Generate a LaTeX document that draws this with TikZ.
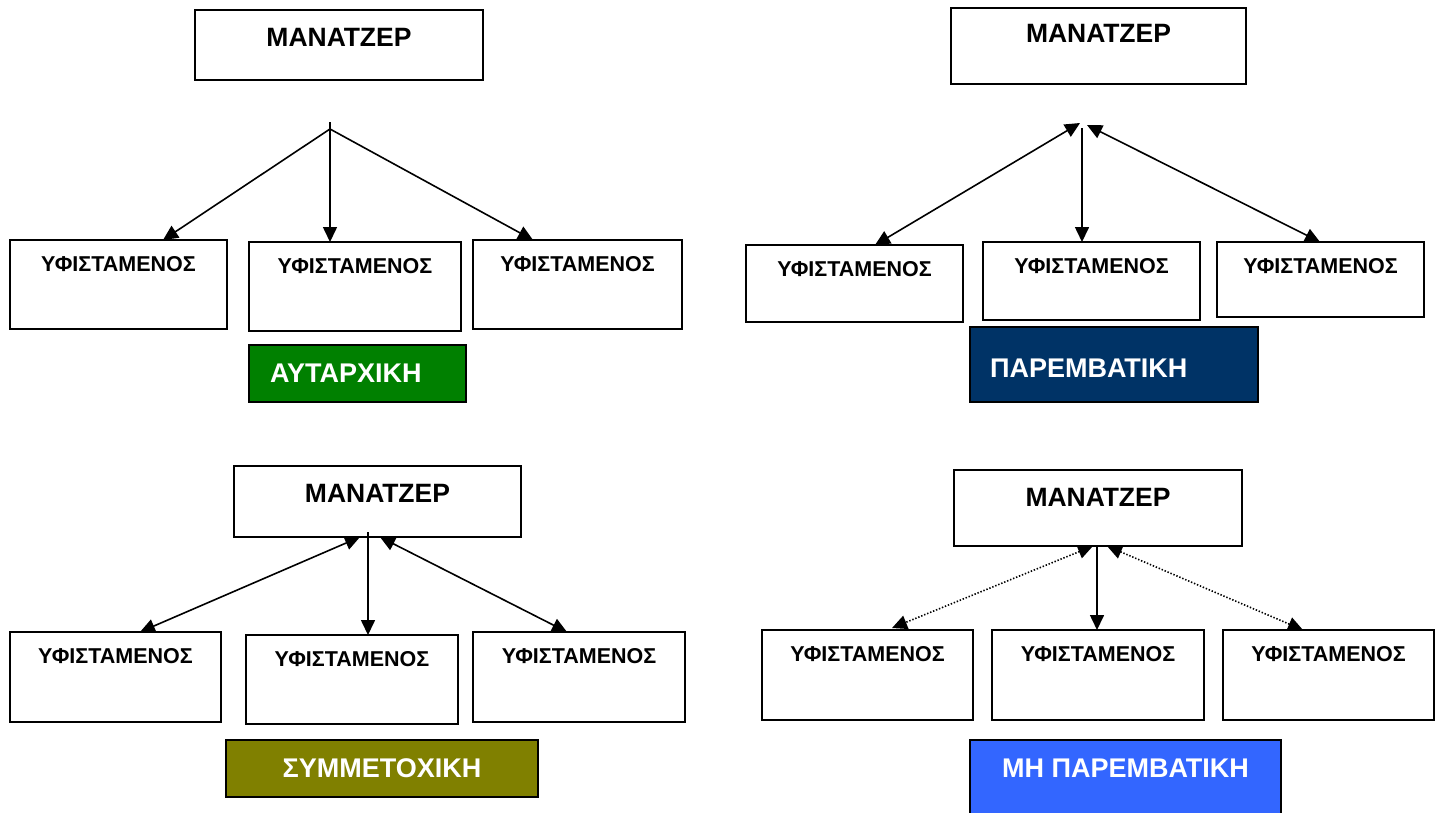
\documentclass[tikz,border=0pt]{standalone}
\usepackage{fontspec}
\setmainfont{Liberation Sans}
\usetikzlibrary{arrows.meta,calc}
\definecolor{autocratic}{RGB}{0,128,0}
\definecolor{interventive}{RGB}{0,51,102}
\definecolor{participative}{RGB}{128,128,0}
\definecolor{noninterventive}{RGB}{51,102,255}
\begin{document}
\begin{tikzpicture}[x=1pt,y=-1pt,
  box/.style={draw, line width=1.5pt, anchor=north west, inner sep=0pt, outer sep=0pt, align=center},
  mgr/.style={box, font=\bfseries\fontsize{26.5}{28}\selectfont},
  sub/.style={box, font=\bfseries\fontsize{21.5}{23}\selectfont},
  tag/.style={box, line width=1.9pt, text=white, font=\bfseries\fontsize{27}{29}\selectfont},
  tip/.tip={Triangle[length=15pt,width=14pt]},
  arr/.style={line width=1.6pt, -tip},
  darr/.style={line width=1.6pt, tip-tip},
  dotarr/.style={darr, dash pattern=on 1.4pt off 1.8pt}]
\useasboundingbox (0,0) rectangle (1439,812);
\clip (0,0) rectangle (1439,812);

% ---- autocratic ----
\node[mgr, minimum width=288pt, minimum height=70pt, text height=36pt, text depth=34pt] (m1) at (195,10) {ΜΑΝΑΤΖΕΡ};
\node[sub, minimum width=217pt, minimum height=89pt, text height=31.5pt, text depth=57.5pt] (b11) at (10,240) {ΥΦΙΣΤΑΜΕΝΟΣ};
\node[sub, minimum width=212pt, minimum height=89pt, text height=31.5pt, text depth=57.5pt] (b12) at (249,242) {ΥΦΙΣΤΑΜΕΝΟΣ};
\node[sub, minimum width=209pt, minimum height=89pt, text height=31.5pt, text depth=57.5pt] (b13) at (473,240) {ΥΦΙΣΤΑΜΕΝΟΣ};
\node[tag, fill=autocratic, inner xsep=21pt, text width=175pt, align=left, minimum height=57pt, text height=37.5pt, text depth=19.5pt] (l1) at (249,345) {ΑΥΤΑΡΧΙΚΗ};
\coordinate (s1) at (330,122);
\coordinate (j1) at (330,129);
\draw[line width=1.6pt] (s1) -- (j1);
\draw[arr] (j1) -- ($(b11.north west)+(153,0)$);
\draw[arr] (j1) -- ($(b12.north west)+(81,0)$);
\draw[arr] (j1) -- ($(b13.north west)+(60,0)$);

% ---- interventive ----
\node[mgr, minimum width=295pt, minimum height=76pt, text height=34.5pt, text depth=41.5pt] (m2) at (951,8) {ΜΑΝΑΤΖΕΡ};
\node[sub, minimum width=217pt, minimum height=77pt, text height=31pt, text depth=46pt] (b21) at (746,245) {ΥΦΙΣΤΑΜΕΝΟΣ};
\node[sub, minimum width=217pt, minimum height=78pt, text height=31.5pt, text depth=46.5pt] (b22) at (983,242) {ΥΦΙΣΤΑΜΕΝΟΣ};
\node[sub, minimum width=207pt, minimum height=75pt, text height=31.5pt, text depth=43.5pt] (b23) at (1217,242) {ΥΦΙΣΤΑΜΕΝΟΣ};
\node[tag, fill=interventive, inner xsep=20pt, text width=248pt, align=left, minimum height=75pt, text height=50.5pt, text depth=24.5pt] (l2) at (970,327) {ΠΑΡΕΜΒΑΤΙΚΗ};
\coordinate (j2l) at (1080,123);
\coordinate (j2m) at (1082,128);
\coordinate (j2r) at (1087,125);
\draw[darr] (j2l) -- ($(b21.north west)+(129,0)$);
\draw[arr] (j2m) -- ($(b22.north west)+(99,0)$);
\draw[darr] (j2r) -- ($(b23.north west)+(103,0)$);

% ---- participative ----
\node[mgr, minimum width=287pt, minimum height=71pt, text height=36.5pt, text depth=34.5pt] (m3) at (234,466) {ΜΑΝΑΤΖΕΡ};
\node[sub, minimum width=211pt, minimum height=90pt, text height=31.5pt, text depth=58.5pt] (b31) at (10,632) {ΥΦΙΣΤΑΜΕΝΟΣ};
\node[sub, minimum width=212pt, minimum height=89pt, text height=31.5pt, text depth=57.5pt] (b32) at (246,635) {ΥΦΙΣΤΑΜΕΝΟΣ};
\node[sub, minimum width=212pt, minimum height=90pt, text height=31.5pt, text depth=58.5pt] (b33) at (473,632) {ΥΦΙΣΤΑΜΕΝΟΣ};
\node[tag, fill=participative, minimum width=312pt, minimum height=57pt, text height=37.5pt, text depth=19.5pt] (l3) at (226,740) {ΣΥΜΜΕΤΟΧΙΚΗ};
\draw[darr] ($(m3.south west)+(126,0)$) -- ($(b31.north west)+(130,0)$);
\draw[arr] ($(m3.south west)+(134,-5)$) -- ($(b32.north west)+(122,0)$);
\draw[darr] ($(m3.south west)+(146,0)$) -- ($(b33.north west)+(94,0)$);

% ---- non-interventive ----
\node[mgr, minimum width=288pt, minimum height=76pt, text height=36.5pt, text depth=39.5pt] (m4) at (954,470) {ΜΑΝΑΤΖΕΡ};
\node[sub, minimum width=211pt, minimum height=90pt, text height=31.5pt, text depth=58.5pt] (b41) at (762,630) {ΥΦΙΣΤΑΜΕΝΟΣ};
\node[sub, minimum width=212pt, minimum height=90pt, text height=31.5pt, text depth=58.5pt] (b42) at (992,630) {ΥΦΙΣΤΑΜΕΝΟΣ};
\node[sub, minimum width=211pt, minimum height=90pt, text height=31.5pt, text depth=58.5pt] (b43) at (1223,630) {ΥΦΙΣΤΑΜΕΝΟΣ};
\node[tag, fill=noninterventive, minimum width=311pt, minimum height=80pt, text height=37.5pt, text depth=42.5pt] (l4) at (970,740) {ΜΗ ΠΑΡΕΜΒΑΤΙΚΗ};
\draw[dotarr] ($(m4.south west)+(139,0)$) -- ($(b41.north west)+(130,-2)$);
\draw[arr] ($(m4.south west)+(143,0)$) -- ($(b42.north west)+(105,0)$);
\draw[dotarr] ($(m4.south west)+(153,0)$) -- ($(b43.north west)+(80,0)$);
\end{tikzpicture}
\end{document}
